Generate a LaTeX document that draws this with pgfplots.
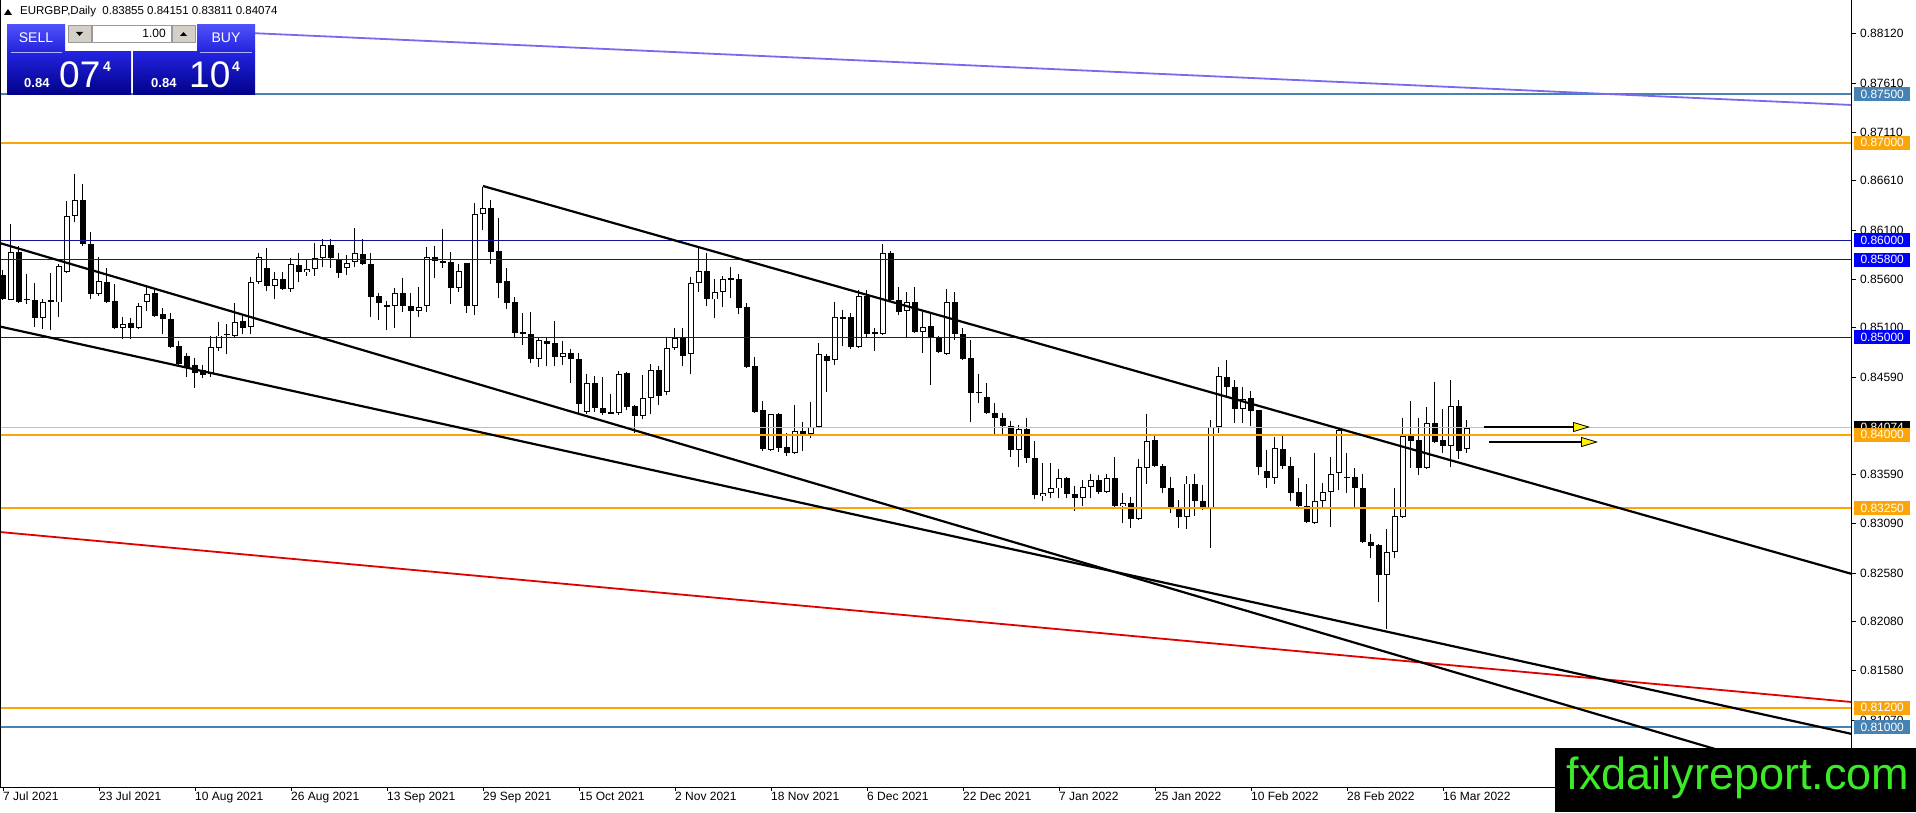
\documentclass[border=0pt]{standalone}
\usepackage{pgfplots}
\pgfplotsset{compat=1.18}
\usepackage{pgfplotstable}
\usepackage{fontspec}
\setmainfont{Liberation Sans}
\newfontfamily\dejavu{DejaVu Sans}
\usetikzlibrary{arrows.meta,shadings}

\definecolor{mtsteel}{RGB}{70,130,180}
\definecolor{mtorange}{RGB}{250,165,10}
\definecolor{mtblue}{RGB}{20,20,150}
\definecolor{mtbluebox}{RGB}{0,0,255}
\definecolor{mtpurple}{RGB}{123,104,238}
\definecolor{mtred}{RGB}{225,0,0}
\definecolor{mtsilver}{RGB}{192,192,192}
\definecolor{logogreen}{RGB}{60,235,40}
\definecolor{pgray}{RGB}{212,208,200}

\pgfplotstableread{
i o h l c
0 0.8564 0.8569 0.8538 0.8540
1 0.8539 0.8616 0.8538 0.8588
2 0.8588 0.8594 0.8535 0.8536
3 0.8539 0.8565 0.8534 0.8540
4 0.8539 0.8556 0.8511 0.8520
5 0.8520 0.8540 0.8509 0.8536
6 0.8536 0.8566 0.8508 0.8538
7 0.8536 0.8576 0.8521 0.8573
8 0.8567 0.8640 0.8566 0.8625
9 0.8625 0.8668 0.8619 0.8641
10 0.8641 0.8658 0.8594 0.8596
11 0.8596 0.8608 0.8539 0.8545
12 0.8545 0.8583 0.8543 0.8558
13 0.8557 0.8571 0.8535 0.8536
14 0.8538 0.8555 0.8509 0.8510
15 0.8510 0.8521 0.8498 0.8514
16 0.8515 0.8520 0.8498 0.8510
17 0.8510 0.8535 0.8509 0.8532
18 0.8536 0.8552 0.8527 0.8545
19 0.8546 0.8549 0.8521 0.8522
20 0.8524 0.8530 0.8504 0.8519
21 0.8519 0.8525 0.8489 0.8490
22 0.8491 0.8496 0.8470 0.8473
23 0.8481 0.8484 0.8459 0.8469
24 0.8472 0.8479 0.8448 0.8464
25 0.8467 0.8472 0.8458 0.8462
26 0.8462 0.8502 0.8459 0.8490
27 0.8489 0.8516 0.8486 0.8502
28 0.8503 0.8514 0.8483 0.8504
29 0.8502 0.8535 0.8500 0.8516
30 0.8517 0.8524 0.8504 0.8510
31 0.8511 0.8562 0.8504 0.8557
32 0.8557 0.8587 0.8555 0.8583
33 0.8571 0.8592 0.8548 0.8553
34 0.8553 0.8567 0.8540 0.8560
35 0.8560 0.8567 0.8549 0.8550
36 0.8550 0.8582 0.8547 0.8575
37 0.8575 0.8587 0.8557 0.8567
38 0.8567 0.8580 0.8563 0.8570
39 0.8570 0.8597 0.8563 0.8582
40 0.8582 0.8601 0.8572 0.8595
41 0.8595 0.8601 0.8571 0.8582
42 0.8580 0.8587 0.8561 0.8566
43 0.8571 0.8585 0.8564 0.8577
44 0.8577 0.8612 0.8572 0.8587
45 0.8586 0.8601 0.8574 0.8575
46 0.8575 0.8587 0.8521 0.8542
47 0.8543 0.8546 0.8518 0.8535
48 0.8532 0.8537 0.8508 0.8533
49 0.8532 0.8551 0.8510 0.8546
50 0.8546 0.8561 0.8526 0.8532
51 0.8532 0.8546 0.8499 0.8527
52 0.8527 0.8552 0.8521 0.8531
53 0.8532 0.8593 0.8526 0.8583
54 0.8583 0.8594 0.8561 0.8579
55 0.8578 0.8611 0.8571 0.8576
56 0.8577 0.8588 0.8534 0.8551
57 0.8551 0.8576 0.8547 0.8568
58 0.8576 0.8577 0.8525 0.8532
59 0.8532 0.8638 0.8523 0.8627
60 0.8627 0.8655 0.8610 0.8633
61 0.8633 0.8641 0.8576 0.8588
62 0.8589 0.8623 0.8541 0.8556
63 0.8558 0.8571 0.8529 0.8535
64 0.8536 0.8542 0.8500 0.8505
65 0.8505 0.8525 0.8492 0.8504
66 0.8504 0.8526 0.8474 0.8478
67 0.8478 0.8499 0.8470 0.8497
68 0.8496 0.8499 0.8471 0.8493
69 0.8494 0.8517 0.8471 0.8480
70 0.8480 0.8496 0.8472 0.8484
71 0.8484 0.8488 0.8453 0.8478
72 0.8478 0.8484 0.8421 0.8432
73 0.8423 0.8462 0.8421 0.8453
74 0.8453 0.8460 0.8423 0.8428
75 0.8428 0.8459 0.8420 0.8423
76 0.8424 0.8442 0.8421 0.8422
77 0.8422 0.8466 0.8420 0.8462
78 0.8464 0.8465 0.8425 0.8429
79 0.8430 0.8431 0.8402 0.8419
80 0.8419 0.8462 0.8416 0.8438
81 0.8438 0.8473 0.8421 0.8467
82 0.8467 0.8471 0.8431 0.8440
83 0.8444 0.8499 0.8441 0.8489
84 0.8489 0.8510 0.8487 0.8500
85 0.8500 0.8510 0.8471 0.8481
86 0.8483 0.8562 0.8462 0.8556
87 0.8556 0.8592 0.8547 0.8568
88 0.8568 0.8587 0.8532 0.8539
89 0.8539 0.8560 0.8520 0.8547
90 0.8547 0.8563 0.8531 0.8560
91 0.8560 0.8572 0.8541 0.8561
92 0.8560 0.8565 0.8524 0.8530
93 0.8531 0.8535 0.8469 0.8470
94 0.8471 0.8480 0.8423 0.8424
95 0.8425 0.8435 0.8383 0.8385
96 0.8385 0.8422 0.8383 0.8421
97 0.8421 0.8422 0.8382 0.8386
98 0.8388 0.8402 0.8378 0.8381
99 0.8381 0.8431 0.8380 0.8404
100 0.8404 0.8413 0.8383 0.8401
101 0.8401 0.8434 0.8397 0.8408
102 0.8408 0.8494 0.8407 0.8483
103 0.8481 0.8483 0.8444 0.8476
104 0.8477 0.8536 0.8472 0.8521
105 0.8521 0.8528 0.8491 0.8520
106 0.8521 0.8525 0.8488 0.8490
107 0.8490 0.8549 0.8489 0.8543
108 0.8543 0.8549 0.8500 0.8504
109 0.8504 0.8510 0.8486 0.8505
110 0.8504 0.8596 0.8503 0.8587
111 0.8587 0.8589 0.8537 0.8538
112 0.8538 0.8552 0.8523 0.8526
113 0.8527 0.8547 0.8499 0.8536
114 0.8536 0.8552 0.8505 0.8506
115 0.8506 0.8526 0.8484 0.8511
116 0.8512 0.8526 0.8451 0.8500
117 0.8500 0.8502 0.8484 0.8485
118 0.8483 0.8550 0.8482 0.8536
119 0.8536 0.8547 0.8497 0.8504
120 0.8504 0.8510 0.8477 0.8478
121 0.8479 0.8497 0.8413 0.8443
122 0.8444 0.8463 0.8433 0.8443
123 0.8439 0.8453 0.8421 0.8422
124 0.8422 0.8433 0.8401 0.8417
125 0.8417 0.8423 0.8401 0.8409
126 0.8409 0.8414 0.8377 0.8385
127 0.8385 0.8410 0.8367 0.8406
128 0.8406 0.8417 0.8371 0.8376
129 0.8376 0.8394 0.8334 0.8338
130 0.8337 0.8371 0.8332 0.8340
131 0.8340 0.8371 0.8335 0.8345
132 0.8345 0.8365 0.8335 0.8356
133 0.8356 0.8357 0.8335 0.8339
134 0.8339 0.8347 0.8322 0.8335
135 0.8335 0.8354 0.8327 0.8347
136 0.8347 0.8360 0.8335 0.8354
137 0.8354 0.8359 0.8339 0.8341
138 0.8341 0.8360 0.8340 0.8356
139 0.8356 0.8377 0.8326 0.8327
140 0.8327 0.8340 0.8310 0.8330
141 0.8330 0.8336 0.8304 0.8314
142 0.8314 0.8375 0.8313 0.8367
143 0.8366 0.8421 0.8350 0.8394
144 0.8395 0.8400 0.8367 0.8368
145 0.8368 0.8370 0.8340 0.8345
146 0.8345 0.8357 0.8320 0.8326
147 0.8324 0.8333 0.8304 0.8316
148 0.8316 0.8358 0.8303 0.8350
149 0.8350 0.8360 0.8317 0.8332
150 0.8332 0.8349 0.8323 0.8324
151 0.8324 0.8415 0.8284 0.8408
152 0.8408 0.8470 0.8402 0.8460
153 0.8460 0.8477 0.8439 0.8449
154 0.8449 0.8456 0.8412 0.8427
155 0.8427 0.8449 0.8412 0.8437
156 0.8438 0.8445 0.8409 0.8425
157 0.8425 0.8426 0.8359 0.8367
158 0.8363 0.8385 0.8345 0.8356
159 0.8356 0.8398 0.8350 0.8386
160 0.8386 0.8399 0.8365 0.8368
161 0.8368 0.8377 0.8332 0.8340
162 0.8341 0.8356 0.8324 0.8327
163 0.8327 0.8350 0.8309 0.8310
164 0.8310 0.8381 0.8309 0.8332
165 0.8332 0.8351 0.8326 0.8341
166 0.8341 0.8377 0.8305 0.8360
167 0.8361 0.8407 0.8343 0.8405
168 0.8357 0.8381 0.8340 0.8356
169 0.8357 0.8366 0.8325 0.8345
170 0.8345 0.8360 0.8289 0.8290
171 0.8290 0.8298 0.8274 0.8286
172 0.8287 0.8288 0.8228 0.8256
173 0.8256 0.8303 0.8201 0.8280
174 0.8280 0.8345 0.8274 0.8317
175 0.8316 0.8417 0.8315 0.8399
176 0.8399 0.8435 0.8366 0.8394
177 0.8395 0.8417 0.8359 0.8366
178 0.8366 0.8429 0.8365 0.8412
179 0.8412 0.8454 0.8392 0.8393
180 0.8395 0.8427 0.8381 0.8389
181 0.8389 0.8456 0.8367 0.8430
182 0.8430 0.8436 0.8375 0.8383
183 0.83855 0.84151 0.83811 0.84074
}\candles

\begin{document}
\begin{tikzpicture}[font=\fontsize{12}{14}\selectfont]
\begin{axis}[
  scale only axis, width=1852pt, height=787pt,
  at={(0pt,0pt)}, anchor=south west,
  xmin=-0.375, xmax=231.125, ymin=0.803836, ymax=0.884653,
  axis line style={draw=none},
  clip mode=individual,
  xtick pos=left, ytick pos=right, yticklabel pos=right,
  tick align=outside, major tick length=4pt,
  tick style={black, line width=0.8pt},
  xtick={0,12,...,180},
  xticklabels={7 Jul 2021,23 Jul 2021,10 Aug 2021,26 Aug 2021,13 Sep 2021,29 Sep 2021,15 Oct 2021,2 Nov 2021,18 Nov 2021,6 Dec 2021,22 Dec 2021,7 Jan 2022,25 Jan 2022,10 Feb 2022,28 Feb 2022,16 Mar 2022},
  xticklabel style={anchor=north west, inner sep=1pt, xshift=-1pt, font=\fontsize{12}{14}\selectfont},
  ytick={0.8107,0.8158,0.8208,0.8258,0.8309,0.8359,0.8459,0.851,0.856,0.861,0.8661,0.8711,0.8761,0.8812},
  scaled y ticks=false,
  /pgf/number format/assume math mode=true,
  yticklabel={\pgfmathprintnumber[fixed,fixed zerofill,precision=5]{\tick}},
  yticklabel style={anchor=west, inner sep=0pt, xshift=4pt, font=\fontsize{12}{14}\selectfont},
]
% wicks
\addplot[forget plot, draw=none, mark=none, error bars/.cd, y dir=both, y explicit, error mark=none,
  error bar style={draw=black, line width=1pt}]
  table[x=i, y expr={(\thisrow{h}+\thisrow{l})/2}, y error expr={(\thisrow{h}-\thisrow{l})/2}] {\candles};
% bodies
\addplot[forget plot, draw=none, mark=none, error bars/.cd, y dir=both, y explicit, error mark=none,
  error bar style={draw=black, line width=5.2pt}]
  table[x=i, y expr={(\thisrow{o}+\thisrow{c})/2}, y error expr={max(abs(\thisrow{c}-\thisrow{o})/2,0.00006)}] {\candles};
% white interiors of rising candles
\addplot[forget plot, draw=none, mark=none, error bars/.cd, y dir=both, y explicit, error mark=none,
  error bar style={draw=white, line width=3.2pt}]
  table[x=i, y expr={\thisrow{c}>\thisrow{o} ? (\thisrow{o}+\thisrow{c})/2 : nan}, y error expr={max((\thisrow{c}-\thisrow{o})/2-0.0001,0)}] {\candles};

% horizontal levels
\addplot[forget plot, mtsilver, line width=1pt] coordinates {(-0.375,0.84074) (231.125,0.84074)};
\addplot[forget plot, mtsteel, line width=1.6pt] coordinates {(-0.375,0.875) (231.125,0.875)};
\addplot[forget plot, mtsteel, line width=1.6pt] coordinates {(-0.375,0.81) (231.125,0.81)};
\addplot[forget plot, mtorange, line width=2pt] coordinates {(-0.375,0.87) (231.125,0.87)};
\addplot[forget plot, mtorange, line width=2pt] coordinates {(-0.375,0.84) (231.125,0.84)};
\addplot[forget plot, mtorange, line width=2pt] coordinates {(-0.375,0.8325) (231.125,0.8325)};
\addplot[forget plot, mtorange, line width=2pt] coordinates {(-0.375,0.812) (231.125,0.812)};
\addplot[forget plot, mtblue, line width=1.1pt] coordinates {(-0.375,0.86) (231.125,0.86)};
\addplot[forget plot, mtblue, line width=1.1pt] coordinates {(-0.375,0.858) (231.125,0.858)};
\addplot[forget plot, mtblue, line width=1.1pt] coordinates {(-0.375,0.85) (231.125,0.85)};
% trend lines
\addplot[forget plot, mtpurple, line width=1.8pt] coordinates {(31,0.88126) (231.125,0.87387)};
\addplot[forget plot, mtred, line width=1.8pt] coordinates {(-0.375,0.83002) (231.125,0.81256)};
\addplot[forget plot, black, line width=2.2pt] coordinates {(-0.375,0.85969) (231.125,0.80359)};
\addplot[forget plot, black, line width=2.2pt] coordinates {(-0.375,0.85112) (231.125,0.80928)};
\addplot[forget plot, black, line width=2.2pt] coordinates {(60,0.86555) (231.125,0.82571)};

% frame
\draw[black, line width=1pt] (rel axis cs:0,1) -- (rel axis cs:0,0) -- (rel axis cs:1,0) -- (rel axis cs:1,1);

\coordinate (r875) at (axis cs:231.125,0.875);
\coordinate (r870) at (axis cs:231.125,0.87);
\coordinate (r860) at (axis cs:231.125,0.86);
\coordinate (r858) at (axis cs:231.125,0.858);
\coordinate (r850) at (axis cs:231.125,0.85);
\coordinate (rcur) at (axis cs:231.125,0.84074);
\coordinate (r840) at (axis cs:231.125,0.84);
\coordinate (r8325) at (axis cs:231.125,0.8325);
\coordinate (r812) at (axis cs:231.125,0.812);
\coordinate (r810) at (axis cs:231.125,0.81);
\end{axis}

\tikzset{pbox/.style={anchor=west, minimum width=56pt, minimum height=14pt, inner sep=0pt, text=white, font=\fontsize{12}{14}\selectfont}}
\node[pbox, fill=black] at ([xshift=2pt]rcur) {0.84074};
\node[pbox, fill=mtsteel] at ([xshift=2pt]r875) {0.87500};
\node[pbox, fill=mtorange] at ([xshift=2pt]r870) {0.87000};
\node[pbox, fill=mtbluebox] at ([xshift=2pt]r860) {0.86000};
\node[pbox, fill=mtbluebox] at ([xshift=2pt]r858) {0.85800};
\node[pbox, fill=mtbluebox] at ([xshift=2pt]r850) {0.85000};
\node[pbox, fill=mtorange] at ([xshift=2pt]r840) {0.84000};
\node[pbox, fill=mtorange] at ([xshift=2pt]r8325) {0.83250};
\node[pbox, fill=mtorange] at ([xshift=2pt]r812) {0.81200};
\node[pbox, fill=mtsteel] at ([xshift=2pt]r810) {0.81000};

% overlay elements in image pixel coordinates (origin top-left)
\begin{scope}[shift={(0pt,787pt)}, x=1pt, y=-1pt]
  % arrows
  \draw[black, line width=2pt, -{Triangle[length=17pt,width=10pt,fill=yellow,line width=0.8pt]}] (1484,427) -- (1590,427);
  \draw[black, line width=2pt, -{Triangle[length=17pt,width=10pt,fill=yellow,line width=0.8pt]}] (1489,442) -- (1598,442);
  % header
  \fill[black] (4,15) -- (12,15) -- (8,9) -- cycle;
  \node[anchor=west, inner sep=0pt, font=\fontsize{11.5}{13}\selectfont] at (20,12) {EURGBP,Daily\ \ 0.83855 0.84151 0.83811 0.84074};
  % trade panel
  \shade[top color={rgb,255:red,80;green,80;blue,250}, bottom color={rgb,255:red,35;green,35;blue,220}] (7,25) rectangle (65,52);
  \shade[top color={rgb,255:red,80;green,80;blue,250}, bottom color={rgb,255:red,35;green,35;blue,220}] (197,25) rectangle (255,52);
  \shade[top color={rgb,255:red,35;green,35;blue,225}, bottom color={rgb,255:red,0;green,0;blue,135}] (7,52) rectangle (131,95);
  \shade[top color={rgb,255:red,35;green,35;blue,225}, bottom color={rgb,255:red,0;green,0;blue,135}] (133,52) rectangle (255,95);
  \draw[white!70!blue, line width=0.6pt] (11,52) -- (62,52);
  \draw[white!70!blue, line width=0.6pt] (200,52) -- (252,52);
  \filldraw[fill=pgray, draw=gray!80] (68,25) rectangle (91,42);
  \filldraw[fill=white, draw=gray!80] (92,25) rectangle (171,42);
  \filldraw[fill=pgray, draw=gray!80] (172,25) rectangle (195,42);
  \fill[black] (76,32) -- (83,32) -- (79.5,36) -- cycle;
  \fill[black] (180,36) -- (187,36) -- (183.5,32) -- cycle;
  \node[anchor=east, inner sep=0pt, font=\fontsize{12}{14}\selectfont] at (166,33.5) {1.00};
  \node[text=white, inner sep=0pt, font=\fontsize{14}{16}\selectfont] at (36,38) {SELL};
  \node[text=white, inner sep=0pt, font=\fontsize{14}{16}\selectfont] at (226,38) {BUY};
  \node[text=white, anchor=base west, inner sep=0pt, font=\bfseries\fontsize{13}{15}\selectfont] at (24,88) {0.84};
  \node[text=white, anchor=base west, inner sep=0pt, font=\fontsize{37}{40}\selectfont] at (59,88) {07};
  \node[text=white, anchor=base west, inner sep=0pt, font=\bfseries\fontsize{14}{16}\selectfont] at (103,72) {4};
  \node[text=white, anchor=base west, inner sep=0pt, font=\bfseries\fontsize{13}{15}\selectfont] at (151,88) {0.84};
  \node[text=white, anchor=base west, inner sep=0pt, font=\fontsize{37}{40}\selectfont] at (189,88) {10};
  \node[text=white, anchor=base west, inner sep=0pt, font=\bfseries\fontsize{14}{16}\selectfont] at (232,72) {4};
  % logo
  \fill[black] (1555,748) rectangle (1916,812);
  \node[text=logogreen, anchor=base, inner sep=0pt, font=\fontsize{45}{48}\selectfont] at (1738,789) {fxdailyreport.com};
\end{scope}

\pgfresetboundingbox
\useasboundingbox (0pt,-25pt) rectangle (1916pt,787pt);
\end{tikzpicture}
\end{document}
